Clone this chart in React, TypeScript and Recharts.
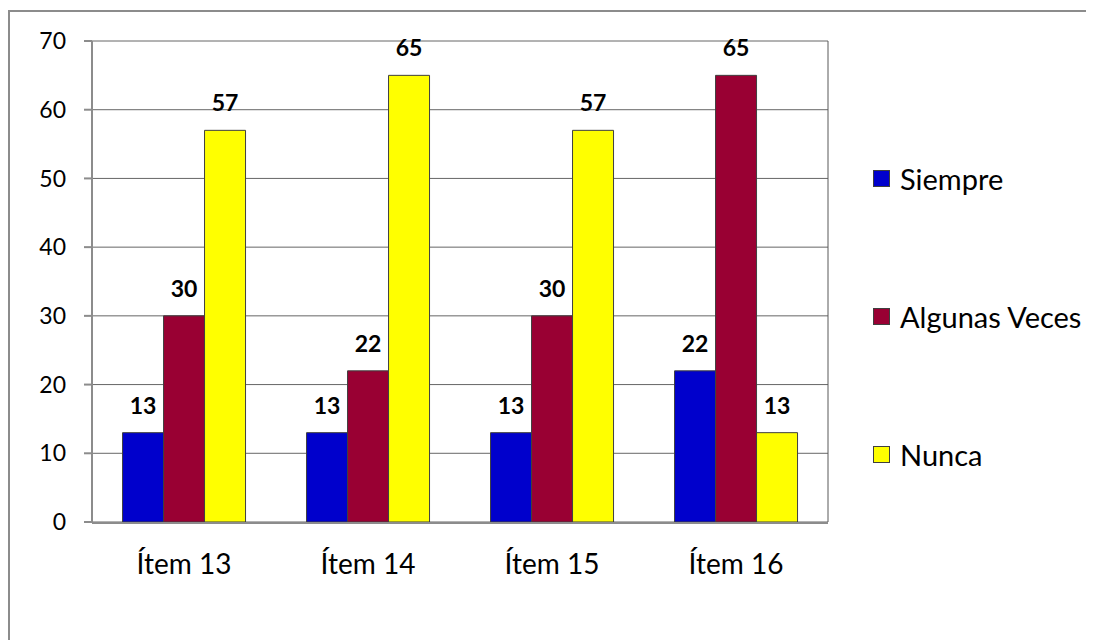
import React from 'react';
import { BarChart, Bar, XAxis, YAxis, CartesianGrid, Legend, LabelList } from 'recharts';

const categories = ['Ítem 13', 'Ítem 14', 'Ítem 15', 'Ítem 16'];
const siempre = [13, 13, 13, 22];
const algunasVeces = [30, 22, 30, 65];
const nunca = [57, 65, 57, 13];
const yTicks = [0, 10, 20, 30, 40, 50, 60, 70];
const yDomain = [0, 70];
const edgeTicks = [0, 1, 2, 3, 4];
const edgeDomain = [0, 4];

const seriesInfo = [
  { key: 'siempre', name: 'Siempre', color: '#0000CC' },
  { key: 'algunas', name: 'Algunas Veces', color: '#990033' },
  { key: 'nunca', name: 'Nunca', color: '#FFFF00' },
];

const data = categories.map((c, i) => ({
  name: c,
  pos: i + 0.5,
  siempre: siempre[i],
  algunas: algunasVeces[i],
  nunca: nunca[i],
}));

const FONT = 'Lato, "Open Sans", sans-serif';
const axisStyle = { stroke: '#8c8c8c', strokeWidth: 2 };
const rightAxisStyle = { stroke: '#595959', strokeWidth: 1 };
const xTickStyle = { fontSize: 28, fill: '#000', fontFamily: FONT };
const yTickStyle = { fontSize: 23, fill: '#000', fontFamily: FONT };
const labelStyle = { fontSize: 23, fontWeight: 'bold', fill: '#000', fontFamily: FONT };
const legendWrapper = { left: 873, top: 109, width: 215 };

const LegendContent = () => (
  <div style={{ fontFamily: FONT }}>
    {seriesInfo.map((s) => (
      <div key={s.key} style={{ height: 138, display: 'flex', alignItems: 'center' }}>
        <div
          style={{
            width: 15,
            height: 15,
            background: s.color,
            border: '1px solid #3f3f3f',
            marginRight: 10,
          }}
        />
        <span style={{ fontSize: 29, color: '#000', whiteSpace: 'nowrap' }}>{s.name}</span>
      </div>
    ))}
  </div>
);

export default function App() {
  return (
    <div
      style={{
        position: 'absolute',
        left: 0,
        top: 0,
        width: 1096,
        height: 640,
        overflow: 'hidden',
        background: '#fff',
        fontFamily: FONT,
      }}
    >
      <div
        style={{
          position: 'absolute',
          left: 8,
          top: 10,
          width: 1076,
          height: 636,
          borderLeft: '2px solid #8c8c8c',
          borderTop: '2px solid #8c8c8c',
        }}
      />
      <div style={{ position: 'absolute', left: 0, top: 0 }}>
        <BarChart
          width={1096}
          height={640}
          data={data}
          margin={{ top: 41, right: 267, bottom: 0, left: 0 }}
          barCategoryGap="16.6%"
          barGap={0}
        >
          <CartesianGrid vertical={false} xAxisId="cat" stroke="#666666" strokeWidth={1} />
          <XAxis
            xAxisId="cat"
            dataKey="name"
            tickLine={false}
            tickSize={0}
            tickMargin={32}
            axisLine={false}
            tick={xTickStyle}
            height={1}
          />
          <XAxis
            xAxisId="edges"
            type="number"
            dataKey="pos"
            domain={edgeDomain}
            ticks={edgeTicks}
            allowDataOverflow
            tick={false}
            axisLine={axisStyle}
            tickLine={axisStyle}
            tickSize={8}
            height={117}
          />
          <YAxis
            domain={yDomain}
            ticks={yTicks}
            width={92}
            tickSize={8}
            tickMargin={18}
            axisLine={axisStyle}
            tickLine={axisStyle}
            tick={yTickStyle}
          />
          <YAxis
            yAxisId="right"
            orientation="right"
            domain={yDomain}
            width={1}
            tick={false}
            tickLine={false}
            axisLine={rightAxisStyle}
          />
          <Legend
            layout="vertical"
            align="center"
            verticalAlign="middle"
            content={<LegendContent />}
            wrapperStyle={legendWrapper}
          />
          {seriesInfo.map((s) => (
            <Bar
              key={s.key}
              xAxisId="cat"
              dataKey={s.key}
              name={s.name}
              fill={s.color}
              stroke="#3f3f3f"
              strokeWidth={1}
              isAnimationActive={false}
            >
              <LabelList dataKey={s.key} position="top" offset={19} style={labelStyle} />
            </Bar>
          ))}
        </BarChart>
      </div>
    </div>
  );
}
